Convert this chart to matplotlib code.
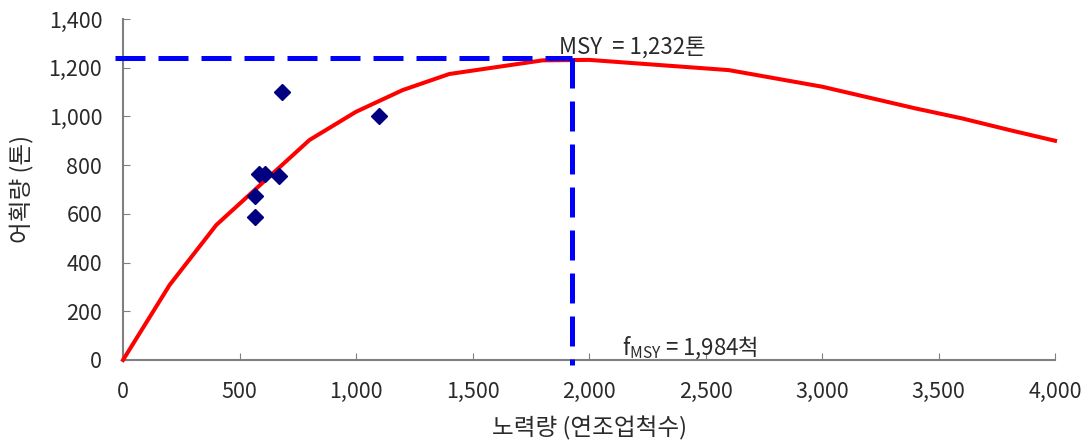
import matplotlib
matplotlib.use('Agg')
import matplotlib.pyplot as plt
from matplotlib.ticker import FuncFormatter

plt.rcParams['font.family'] = ['Noto Sans CJK KR', 'DejaVu Sans']
plt.rcParams['font.weight'] = 'light'
plt.rcParams['mathtext.fontset'] = 'custom'
plt.rcParams['mathtext.rm'] = 'Noto Sans CJK KR:light'

# 관측값 (노력량, 어획량)
obs_effort = [566, 566, 585, 609, 671, 681, 1100]
obs_catch = [588, 673, 763, 763, 757, 1101, 1003]

# 모델 곡선
curve_effort = [0, 200, 400, 800, 1000, 1200, 1400, 1800, 2000, 2600, 3000, 3400, 3600, 3800, 4000]
curve_catch = [0, 308, 554, 903, 1019, 1108, 1174, 1230, 1232, 1190, 1122, 1033, 992, 945, 900]

# MSY 기준선
msy_y = 1240
fmsy_x = 1927

xticks = [0, 500, 1000, 1500, 2000, 2500, 3000, 3500, 4000]
yticks = [0, 200, 400, 600, 800, 1000, 1200, 1400]

txt = '#2a2a2a'

fig = plt.figure(figsize=(10.85, 4.41), dpi=100)
ax = fig.add_axes([0.1134, 0.1837, 0.859, 0.7733])

ax.plot(curve_effort, curve_catch, color='#ff0000', lw=2.9, zorder=3, clip_on=False)
ax.plot(obs_effort, obs_catch, 'D', color='#000080', ms=8, zorder=4)

ax.plot([-35, fmsy_x], [msy_y, msy_y], color='#0000ff', lw=3.6,
        dashes=(6, 2.6), clip_on=False, zorder=5)
ax.plot([fmsy_x, fmsy_x], [msy_y, -20], color='#0000ff', lw=3.6,
        dashes=(6, 2.6), clip_on=False, zorder=5)

ax.text(1871, 1283, 'MSY  = 1,232톤', fontsize=16, color=txt, va='center', ha='left')
ax.text(2142, 50, 'f$_{\\rm MSY}$ = 1,984척', fontsize=16, color=txt, va='center', ha='left')

ax.set_xlim(0, 4000)
ax.set_ylim(0, 1400)
ax.set_xticks(xticks)
ax.set_yticks(yticks)
fmt = FuncFormatter(lambda v, p: '{:,.0f}'.format(v))
ax.xaxis.set_major_formatter(fmt)
ax.yaxis.set_major_formatter(fmt)
ax.tick_params(direction='in', length=5, color='#808080', labelsize=15.5, labelcolor=txt)
ax.tick_params(axis='x', pad=15)
ax.tick_params(axis='y', pad=15)

for s in ['top', 'right']:
    ax.spines[s].set_visible(False)
for s in ['left', 'bottom']:
    ax.spines[s].set_color('#808080')
    ax.spines[s].set_linewidth(1.5)

ax.set_xlabel('노력량 (연조업척수)', fontsize=17, color=txt, va='center')
ax.set_ylabel('어획량 (톤)', fontsize=17, color=txt, va='center')
ax.xaxis.set_label_coords(0.5, -0.199)
ax.yaxis.set_label_coords(-0.108, 0.5)

fig.savefig('out.png', dpi=100)
